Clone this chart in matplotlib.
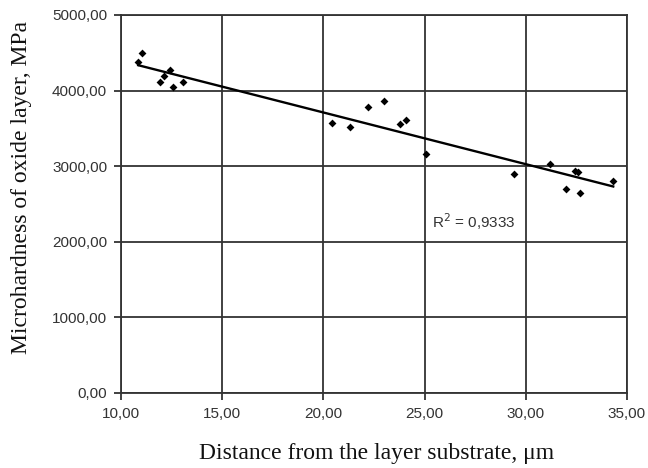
import numpy as np
import matplotlib
matplotlib.use("Agg")
import matplotlib.pyplot as plt
from matplotlib.ticker import FixedLocator, FuncFormatter

# Data
distance_um = [10.85, 11.02, 11.93, 12.12, 12.42, 12.55, 13.05,
               20.41, 21.31, 22.22, 23.01, 23.78, 24.08, 25.05,
               29.43, 31.21, 31.97, 32.43, 32.59, 32.68, 34.32]
microhardness_mpa = [4383, 4494, 4111, 4194, 4269, 4052, 4115,
                     3568, 3515, 3788, 3863, 3563, 3607, 3162,
                     2893, 3026, 2699, 2937, 2924, 2646, 2801]
x_ticks = [10, 15, 20, 25, 30, 35]
y_ticks = [0, 1000, 2000, 3000, 4000, 5000]
r2_label = "R$^2$ = 0,9333"
x_label = "Distance from the layer substrate, \u03bcm"
y_label = "Microhardness of oxide layer, MPa"

fig = plt.figure(figsize=(6.48, 4.68), dpi=100)
ax = fig.add_axes([121/648, 1-393/468, (627-121)/648, (393-15)/468])

x = np.array(distance_um)
y = np.array(microhardness_mpa)
slope, intercept = np.polyfit(x, y, 1)
xl = np.array([x.min(), x.max()])
ax.plot(xl, slope*xl + intercept, color="black", lw=1.7, zorder=3)
ax.scatter(x, y, marker="D", s=16, color="black", zorder=4, linewidths=0)

ax.set_xlim(10, 35)
ax.set_ylim(0, 5000)
ax.xaxis.set_major_locator(FixedLocator(x_ticks))
ax.yaxis.set_major_locator(FixedLocator(y_ticks))
fmt = FuncFormatter(lambda v, p: f"{v:.2f}".replace(".", ","))
ax.xaxis.set_major_formatter(fmt)
ax.yaxis.set_major_formatter(fmt)

gridc = "#333333"
ax.grid(True, color=gridc, lw=1.3, zorder=1)
for s in ax.spines.values():
    s.set_color(gridc)
    s.set_linewidth(1.3)
ax.tick_params(direction="out", length=5, width=1.3, color=gridc,
               labelsize=11, labelcolor="#333333", pad=5)
for lab in ax.get_xticklabels() + ax.get_yticklabels():
    lab.set_family("Liberation Sans")

ax.text(474/648, 1-222/468, r2_label, transform=fig.transFigure,
        ha="center", va="center", fontsize=11, color="#333333",
        family="Liberation Sans")

fig.text(377/648, 1-453/468, x_label, ha="center", va="center",
         fontsize=17, family="Liberation Serif", color="#111111")
fig.text(22/648, 1-187/468, y_label, ha="center", va="center",
         rotation=90, fontsize=17, family="Liberation Serif", color="#111111")

fig.savefig("out.png", dpi=100)
